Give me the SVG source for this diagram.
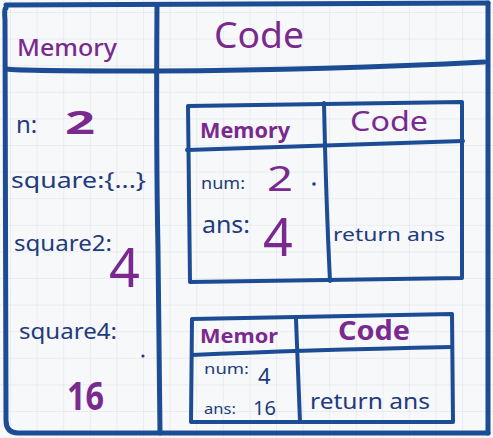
<svg xmlns="http://www.w3.org/2000/svg" width="493" height="438" viewBox="0 0 493 438">
<defs>
<pattern id="grid" x="10" y="12" width="26.6" height="26.6" patternUnits="userSpaceOnUse">
<path d="M0 0H26.6M0 0V26.6" fill="none" stroke="#dcdfe6" stroke-width="1"/>
</pattern>
</defs>
<style>
.ln{fill:none;stroke:#1c4c93;stroke-linecap:round;stroke-linejoin:round}
.thick{stroke-width:5}
.med{stroke-width:4}
.pu{fill:#7a2a8e;font-family:"Noto Sans","Liberation Sans",sans-serif}
.nv{fill:#1e3b7c;font-family:"Noto Sans","Liberation Sans",sans-serif}
</style>
<rect width="493" height="438" fill="#f7f8fa"/>
<rect width="493" height="438" fill="url(#grid)"/>
<g id="frame">
<path class="ln thick" d="M6 8 Q4 8 5 20 L6 420 Q6 433 18 433 L488 433"/>
<path class="ln thick" d="M6 5 L488 3"/>
<path class="ln thick" d="M488 3 L488 433"/>
<path class="ln thick" d="M157 5 Q156 150 158 250 Q159 360 160 433"/>
<path class="ln thick" d="M6 69 Q20 71 157 71 Q330 70 484 62"/>
</g>
<g id="memory-column">
<text class="pu" x="17" y="56" font-size="24" font-weight="500" textLength="100" lengthAdjust="spacingAndGlyphs">Memory</text>
<text class="nv" x="16" y="133" font-size="24">n:</text>
<text class="pu" x="65" y="134" font-size="32" font-weight="700" textLength="30" lengthAdjust="spacingAndGlyphs">2</text>
<text class="nv" x="11" y="188" font-size="22" textLength="135" lengthAdjust="spacingAndGlyphs">square:{...}</text>
<text class="nv" x="14" y="251" font-size="22" textLength="98" lengthAdjust="spacingAndGlyphs">square2:</text>
<text class="pu" x="109" y="287" font-size="54">4</text>
<text class="nv" x="19" y="339" font-size="22" textLength="98" lengthAdjust="spacingAndGlyphs">square4:</text>
<circle cx="143" cy="356" r="1.6" fill="#1e3b7c"/>
<text class="pu" x="67" y="410" font-size="40" font-weight="700" textLength="37" lengthAdjust="spacingAndGlyphs">16</text>
</g>
<g id="code-column">
<text class="pu" x="214" y="48" font-size="36" textLength="90" lengthAdjust="spacingAndGlyphs">Code</text>
</g>
<g id="context1">
<path class="ln med" d="M188 106 L462 102 L462 278 L190 282 Z"/>
<path class="ln med" d="M187 150 Q300 146 463 141"/>
<path class="ln med" d="M324 103 Q326 200 330 281"/>
<text class="pu" x="200" y="138" font-size="21" font-weight="700" textLength="90" lengthAdjust="spacingAndGlyphs">Memory</text>
<text class="pu" x="350" y="131" font-size="27" textLength="78" lengthAdjust="spacingAndGlyphs">Code</text>
<text class="nv" x="201" y="189" font-size="16" textLength="44" lengthAdjust="spacingAndGlyphs">num:</text>
<text class="pu" x="267" y="191" font-size="34" textLength="26" lengthAdjust="spacingAndGlyphs">2</text>
<circle cx="314" cy="184" r="1.8" fill="#1e3b7c"/>
<text class="nv" x="202" y="233" font-size="23" textLength="48" lengthAdjust="spacingAndGlyphs">ans:</text>
<text class="pu" x="263" y="256" font-size="52">4</text>
<text class="nv" x="333" y="241" font-size="18" textLength="112" lengthAdjust="spacingAndGlyphs">return ans</text>
</g>
<g id="context2">
<path class="ln med" d="M192 319 L452 314 L453 422 L191 422 Z"/>
<path class="ln med" d="M192 355 Q300 350 452 347"/>
<path class="ln med" d="M296 319 Q298 370 300 422"/>
<text class="pu" x="200" y="343" font-size="19" font-weight="700" textLength="78" lengthAdjust="spacingAndGlyphs">Memor</text>
<text class="pu" x="338" y="340" font-size="26" font-weight="700" textLength="72" lengthAdjust="spacingAndGlyphs">Code</text>
<text class="nv" x="204" y="374" font-size="15" textLength="45" lengthAdjust="spacingAndGlyphs">num:</text>
<text class="nv" x="258" y="384" font-size="22">4</text>
<text class="nv" x="204" y="414" font-size="14" textLength="32" lengthAdjust="spacingAndGlyphs">ans:</text>
<text class="nv" x="253" y="415" font-size="20">16</text>
<text class="nv" x="310" y="409" font-size="21" textLength="120" lengthAdjust="spacingAndGlyphs">return ans</text>
</g>
</svg>
